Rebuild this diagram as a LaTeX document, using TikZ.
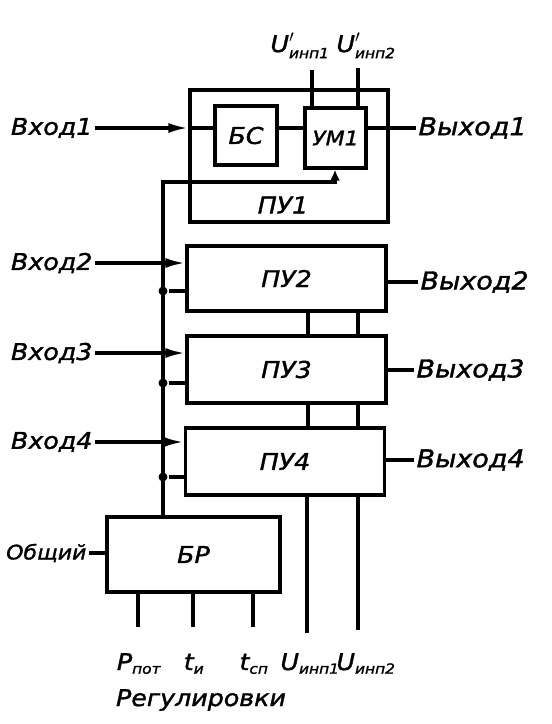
\documentclass[tikz,border=0pt]{standalone}
\usepackage{fontspec}
\setmainfont{DejaVu Sans}[FakeStretch=1.1, ItalicFeatures={FakeBold=1.5}]
\usetikzlibrary{arrows.meta}
\newcommand\sbs[1]{\hbox{\fontsize{14}{14}\selectfont\itshape #1}}
\begin{document}
\begin{tikzpicture}[x=1pt,y=-1pt,line width=3.2pt,
  every node/.style={font=\fontsize{23}{27}\selectfont\itshape, inner sep=1pt},
  outl/.style={anchor=west, font=\fontsize{24.5}{28}\selectfont\itshape},
  blk/.style={draw, rectangle, inner sep=0pt, line width=3.2pt},
  arr/.style={-{Latex[length=20pt,width=10pt]}},
  sarr/.style={-{Latex[length=11pt,width=10pt]}},
  jdot/.style={circle, fill, inner sep=0pt, minimum size=9pt},
  lbl/.style={anchor=base}]
\useasboundingbox (0,0) rectangle (552,724);
% blocks
\node[blk, minimum width=198pt, minimum height=132pt] (pu1) at (289,156) {};
\node (pu1l) at (283,205) {ПУ1};
\node[blk, minimum width=62pt, minimum height=59pt] (bs) at (246,135.5) {БС};
\node[blk, minimum width=61pt, minimum height=60pt, font=\fontsize{20}{24}\selectfont\itshape] (um) at (335.5,138) {УМ1};
\node[blk, minimum width=199pt, minimum height=65pt] (pu2) at (286.5,278.5) {ПУ2};
\node[blk, minimum width=199pt, minimum height=67pt] (pu3) at (286.5,369.5) {ПУ3};
\node[blk, minimum width=199pt, minimum height=67pt] (pu4) at (285,461.5) {ПУ4};
\node[blk, minimum width=173pt, minimum height=75pt] (br) at (193.5,554.5) {БР};
% helper coordinates
\coordinate (bus) at (163,517);
\coordinate (fb) at (335,182);
\coordinate (xa) at (308,0);
\coordinate (xb) at (358,0);
\coordinate (xt) at (312,70);
\coordinate (xt2) at (358,68);
\coordinate (xu1) at (307,633);
\coordinate (xu2) at (358,630);
\coordinate (xp) at (138,627);
\coordinate (xti) at (193,627);
\coordinate (xts) at (253,627);
% row 1
\node[anchor=east] (in1) at (95,128) {Вход1};
\node[outl] (out1) at (416,128) {Выход1};
\draw[arr] (in1.east) -- (in1.east -| pu1.west);
\draw (in1.east -| pu1.west) -- (in1.east -| bs.west);
\draw (in1.east -| bs.east) -- (in1.east -| um.west);
\draw (in1.east -| um.east) -- (out1.west);
% top inputs
\node[lbl] (ut1) at (300,52) {U$^{\prime}_{\sbs{инп1}}$};
\node[lbl] (ut2) at (366,52) {U$^{\prime}_{\sbs{инп2}}$};
\draw (xt) -- (xt |- um.north);
\draw (xt2) -- (xt2 |- um.north);
% bus and feedback
\draw[sarr] (bus) |- (fb) -- (fb |- um.south);
% rows 2-4
\node[anchor=east] (in2) at (95,263) {Вход2};
\node[anchor=east] (in3) at (95,353) {Вход3};
\node[anchor=east] (in4) at (95,442) {Вход4};
\draw[arr] (in2.east) -- (in2.east -| pu2.west);
\draw[arr] (in3.east) -- (in3.east -| pu3.west);
\draw[arr] (in4.east) -- (in4.east -| pu4.west);
\node[jdot] (d2) at (163,291) {};
\node[jdot] (d3) at (163,383) {};
\node[jdot] (d4) at (163,477) {};
\draw (d2) -- (d2 -| pu2.west);
\draw (d3) -- (d3 -| pu3.west);
\draw (d4) -- (d4 -| pu4.west);
\node[outl] (out2) at (418,282) {Выход2};
\node[outl] (out3) at (414,370) {Выход3};
\node[outl] (out4) at (414,460) {Выход4};
\draw (out2.west) -- (out2.west -| pu2.east);
\draw (out3.west) -- (out3.west -| pu3.east);
\draw (out4.west) -- (out4.west -| pu4.east);
% links between PU blocks
\draw (pu2.south -| xa) -- (pu3.north -| xa);
\draw (pu2.south -| xb) -- (pu3.north -| xb);
\draw (pu3.south -| xa) -- (pu4.north -| xa);
\draw (pu3.south -| xb) -- (pu4.north -| xb);
% bottom supply lines
\draw (xu1 |- pu4.south) -- (xu1);
\draw (xu2 |- pu4.south) -- (xu2);
% BR
\node[anchor=east, font=\fontsize{20}{24}\selectfont\itshape] (ob) at (89,553) {Общий};
\draw (ob.east) -- (ob.east -| br.west);
\draw (xp |- br.south) -- (xp);
\draw (xti |- br.south) -- (xti);
\draw (xts |- br.south) -- (xts);
% bottom labels
\node[lbl] (lp) at (139,670) {P$_{\sbs{пот}}$};
\node[lbl] (lti) at (194,670) {t$_{\sbs{и}}$};
\node[lbl] (lts) at (254,670) {t$_{\sbs{сп}}$};
\node[lbl] (lu1) at (310,670) {U$_{\sbs{инп1}}$};
\node[lbl] (lu2) at (366,670) {U$_{\sbs{инп2}}$};
\node[lbl] (reg) at (201,706) {Регулировки};
\end{tikzpicture}
\end{document}
